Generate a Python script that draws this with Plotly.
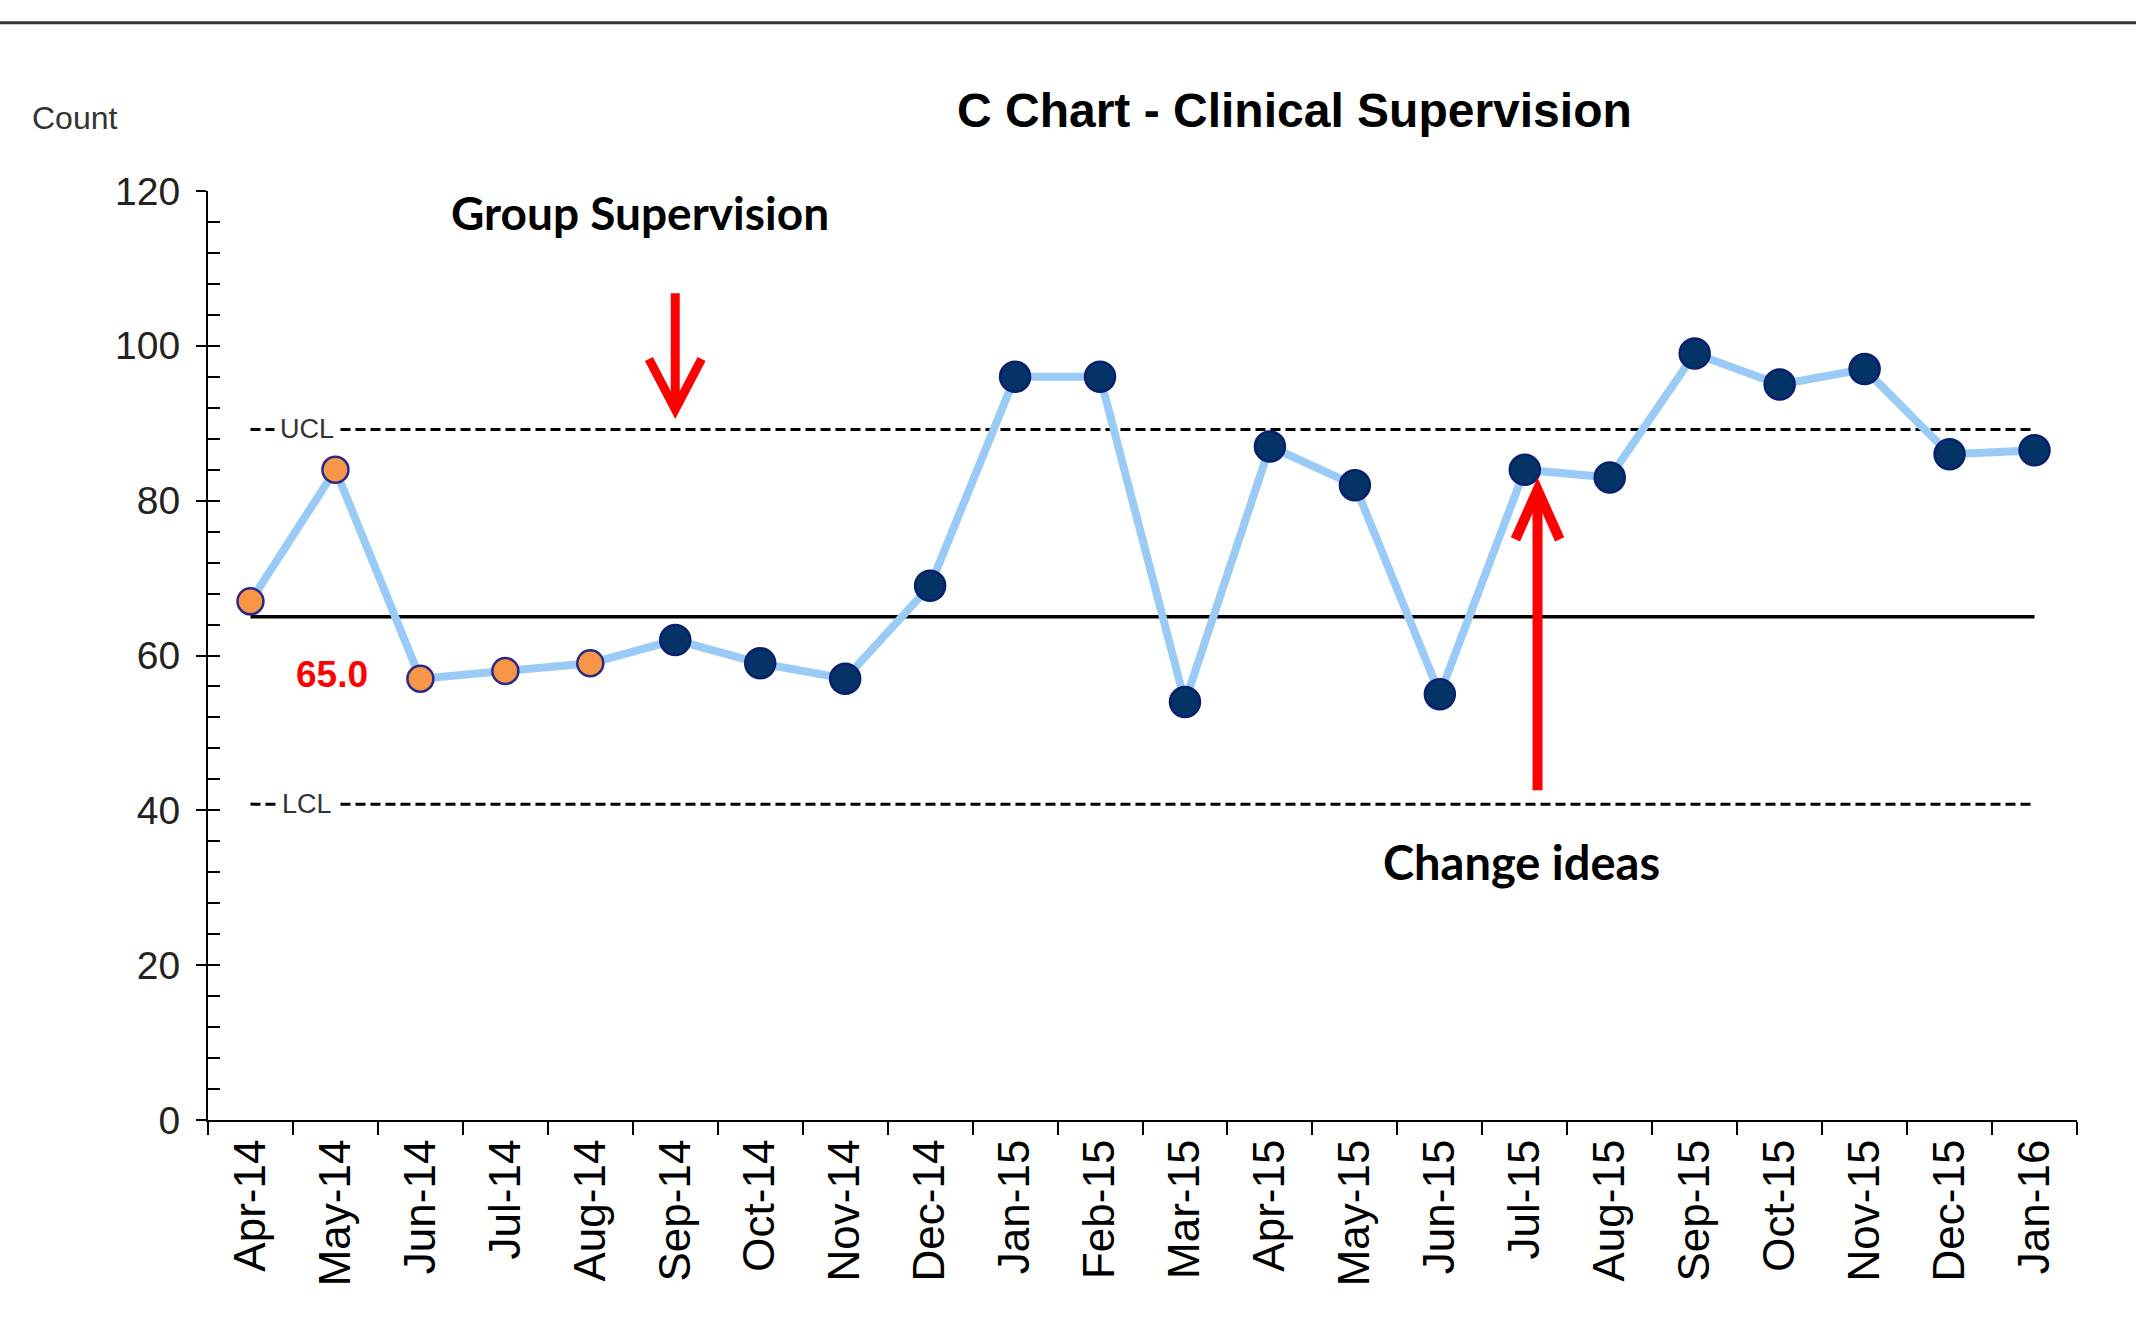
import plotly.graph_objects as go

# ---------------- data ----------------
months = ["Apr-14", "May-14", "Jun-14", "Jul-14", "Aug-14", "Sep-14", "Oct-14",
          "Nov-14", "Dec-14", "Jan-15", "Feb-15", "Mar-15", "Apr-15", "May-15",
          "Jun-15", "Jul-15", "Aug-15", "Sep-15", "Oct-15", "Nov-15", "Dec-15",
          "Jan-16"]
counts = [67, 84, 57, 58, 59, 62, 59, 57, 69, 96, 96, 54, 87, 82, 55, 84, 83,
          99, 95, 97, 86, 86.5]
phase = ["baseline"] * 5 + ["change"] * 17
center_value = 65.0
ucl_value = 89.2
lcl_value = 40.8
y_ticks = [0, 20, 40, 60, 80, 100, 120]

NARROW = "Liberation Sans Narrow, Arial Narrow, Liberation Sans, Arial, sans-serif"
CALI = "Lato, Calibri, Open Sans, sans-serif"

phase_fill = {"baseline": "#F79646", "change": "#043466"}
phase_edge = {"baseline": "#2A2A86", "change": "#0A1F6E"}
phase_size = {"baseline": 26, "change": 30}

fig = go.Figure()

# control limits
fig.add_trace(go.Scatter(x=months, y=[ucl_value] * len(months), mode="lines",
                         line=dict(color="black", width=3, dash="10px,5px"),
                         hoverinfo="skip", showlegend=False))
fig.add_trace(go.Scatter(x=months, y=[lcl_value] * len(months), mode="lines",
                         line=dict(color="black", width=3, dash="10px,5px"),
                         hoverinfo="skip", showlegend=False))
fig.add_trace(go.Scatter(x=months, y=[center_value] * len(months), mode="lines",
                         line=dict(color="black", width=3.5),
                         hoverinfo="skip", showlegend=False))

# data series
fig.add_trace(go.Scatter(
    x=months, y=counts, mode="lines+markers",
    line=dict(color="#9ACBF6", width=8),
    marker=dict(size=[phase_size[p] for p in phase], opacity=1,
                color=[phase_fill[p] for p in phase],
                line=dict(color=[phase_edge[p] for p in phase], width=2.5)),
    showlegend=False, name="Count"))

# overlay axis for inner tick marks
fig.add_trace(go.Scatter(x=months, y=counts, yaxis="y2", mode="none",
                         hoverinfo="skip", showlegend=False))

annotations = [
    dict(text="C Chart - Clinical Supervision", xref="paper", yref="paper",
         x=0.5815, y=1.087, xanchor="center", yanchor="middle", showarrow=False,
         font=dict(family=NARROW, size=48, color="black", weight="bold")),
    dict(text="Count", xref="paper", yref="paper", x=-0.0712, y=1.0786,
         xanchor="center", yanchor="middle", showarrow=False,
         font=dict(family=NARROW, size=32, color="#333333")),
    dict(text="UCL", xref="x", yref="y", x=0.665, y=ucl_value, showarrow=False,
         bgcolor="white", borderpad=5,
         font=dict(family=NARROW, size=27, color="#333333")),
    dict(text="LCL", xref="x", yref="y", x=0.665, y=lcl_value, showarrow=False,
         bgcolor="white", borderpad=5,
         font=dict(family=NARROW, size=27, color="#333333")),
    dict(text=f"{center_value:.1f}", xref="x", yref="y", x=0.96, y=center_value,
         yshift=-58, showarrow=False,
         font=dict(family=NARROW, size=37, color="#FF0000", weight="bold")),
    dict(text="Group Supervision", xref="x", yref="y", x=4.58, y=117.2,
         showarrow=False,
         font=dict(family=CALI, size=46, color="black", weight="bold")),
    dict(text="Change ideas", xref="x", yref="y", x=14.96, y=33.3,
         showarrow=False,
         font=dict(family=CALI, size=47, color="black", weight="bold")),
]

red = "#FF0000"
shapes = [
    # top rule across page
    dict(type="line", xref="paper", yref="paper", x0=-0.12, x1=1.04,
         y0=1.181, y1=1.181, line=dict(color="#333333", width=3)),
    # down arrow (Group Supervision)
    dict(type="path", xref="x", yref="y", path="M 5,106.8 L 5,92.6",
         line=dict(color=red, width=9)),
    dict(type="path", xref="x", yref="y", path="M 4.69,98.3 L 5,91.8 L 5.31,98.3",
         line=dict(color=red, width=9)),
    # up arrow (Change ideas)
    dict(type="path", xref="x", yref="y", path="M 15.15,42.6 L 15.15,80.5",
         line=dict(color=red, width=10)),
    dict(type="path", xref="x", yref="y", path="M 14.89,75.0 L 15.15,81.4 L 15.41,75.0",
         line=dict(color=red, width=10)),
]

fig.update_layout(
    width=2136, height=1319,
    margin=dict(l=208, r=59, t=191, b=199),
    paper_bgcolor="white", plot_bgcolor="white",
    showlegend=False,
    annotations=annotations, shapes=shapes,
    xaxis=dict(type="category", categoryorder="array", categoryarray=months,
               range=[-0.5, len(months) - 0.5],
               tickangle=-90, tickson="boundaries", ticks="outside", ticklen=13,
               tickwidth=1.5, tickcolor="black", showline=True, linecolor="black",
               linewidth=2, showgrid=False, zeroline=False,
               tickfont=dict(family="Liberation Sans, Arial, sans-serif", size=44,
                             color="black")),
    yaxis=dict(range=[0, 120], tickvals=y_ticks, ticks="outside", ticklen=10,
               tickwidth=1.5, tickcolor="black", showline=True, linecolor="black",
               linewidth=2, showgrid=False, zeroline=False, ticklabelstandoff=8,
               tickfont=dict(family=NARROW, size=39, color="#222222")),
    yaxis2=dict(range=[0, 120], overlaying="y", side="left", anchor="x",
                dtick=4, tick0=0, ticks="inside", ticklen=12, tickwidth=1.5,
                tickcolor="black", showticklabels=False, showline=False,
                showgrid=False, zeroline=False),
)

fig.write_html("out.html", config={"displayModeBar": False},
               post_script="document.body.style.margin='0';")
